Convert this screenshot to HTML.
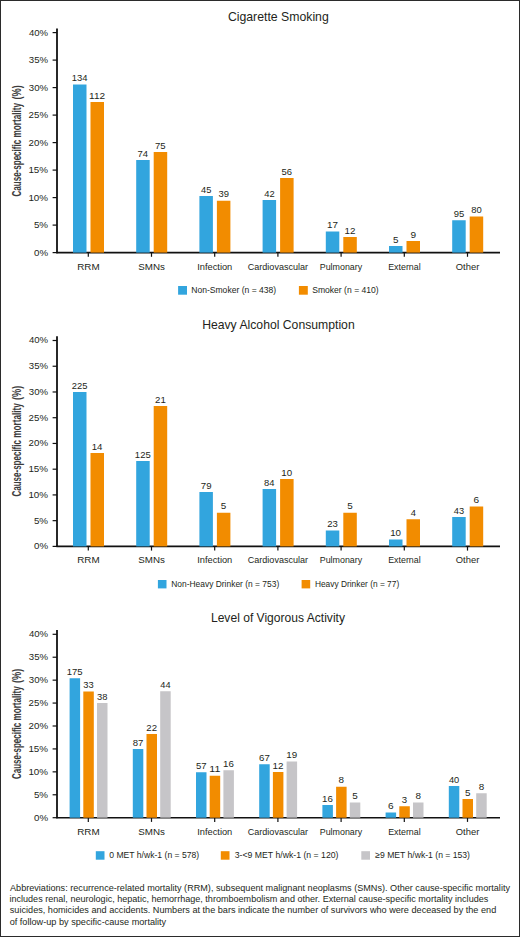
<!DOCTYPE html>
<html><head><meta charset="utf-8"><style>
html,body{margin:0;padding:0;background:#fff;}
svg{display:block;font-family:"Liberation Sans",sans-serif;}
</style></head><body>
<svg width="520" height="937" viewBox="0 0 520 937">
<rect x="0" y="0" width="520" height="937" fill="#fff"/>
<line x1="57.00" y1="28.40" x2="57.00" y2="253.20" stroke="#111" stroke-width="1.8"/>
<line x1="52.60" y1="252.60" x2="57.00" y2="252.60" stroke="#111" stroke-width="1.2"/>
<line x1="52.60" y1="225.10" x2="57.00" y2="225.10" stroke="#111" stroke-width="1.2"/>
<line x1="52.60" y1="197.60" x2="57.00" y2="197.60" stroke="#111" stroke-width="1.2"/>
<line x1="52.60" y1="170.10" x2="57.00" y2="170.10" stroke="#111" stroke-width="1.2"/>
<line x1="52.60" y1="142.60" x2="57.00" y2="142.60" stroke="#111" stroke-width="1.2"/>
<line x1="52.60" y1="115.10" x2="57.00" y2="115.10" stroke="#111" stroke-width="1.2"/>
<line x1="52.60" y1="87.60" x2="57.00" y2="87.60" stroke="#111" stroke-width="1.2"/>
<line x1="52.60" y1="60.10" x2="57.00" y2="60.10" stroke="#111" stroke-width="1.2"/>
<line x1="52.60" y1="32.60" x2="57.00" y2="32.60" stroke="#111" stroke-width="1.2"/>
<line x1="56.40" y1="252.60" x2="500.00" y2="252.60" stroke="#111" stroke-width="1.6"/>
<line x1="88.30" y1="252.60" x2="88.30" y2="256.80" stroke="#111" stroke-width="1.2"/>
<line x1="151.50" y1="252.60" x2="151.50" y2="256.80" stroke="#111" stroke-width="1.2"/>
<line x1="214.70" y1="252.60" x2="214.70" y2="256.80" stroke="#111" stroke-width="1.2"/>
<line x1="277.90" y1="252.60" x2="277.90" y2="256.80" stroke="#111" stroke-width="1.2"/>
<line x1="341.10" y1="252.60" x2="341.10" y2="256.80" stroke="#111" stroke-width="1.2"/>
<line x1="404.30" y1="252.60" x2="404.30" y2="256.80" stroke="#111" stroke-width="1.2"/>
<line x1="467.50" y1="252.60" x2="467.50" y2="256.80" stroke="#111" stroke-width="1.2"/>
<rect x="73.00" y="84.50" width="13.50" height="168.10" fill="#32a5de"/>
<rect x="136.20" y="160.00" width="13.50" height="92.60" fill="#32a5de"/>
<rect x="199.40" y="196.00" width="13.50" height="56.60" fill="#32a5de"/>
<rect x="262.60" y="200.00" width="13.50" height="52.60" fill="#32a5de"/>
<rect x="325.80" y="231.50" width="13.50" height="21.10" fill="#32a5de"/>
<rect x="389.00" y="246.00" width="13.50" height="6.60" fill="#32a5de"/>
<rect x="452.20" y="220.25" width="13.50" height="32.35" fill="#32a5de"/>
<rect x="90.50" y="102.00" width="13.50" height="150.60" fill="#f28c00"/>
<rect x="153.70" y="152.00" width="13.50" height="100.60" fill="#f28c00"/>
<rect x="216.90" y="200.75" width="13.50" height="51.85" fill="#f28c00"/>
<rect x="280.10" y="178.00" width="13.50" height="74.60" fill="#f28c00"/>
<rect x="343.30" y="237.00" width="13.50" height="15.60" fill="#f28c00"/>
<rect x="406.50" y="241.00" width="13.50" height="11.60" fill="#f28c00"/>
<rect x="469.70" y="216.50" width="13.50" height="36.10" fill="#f28c00"/>
<rect x="178.10" y="286.00" width="8.90" height="8.70" fill="#32a5de"/>
<rect x="298.90" y="286.00" width="8.90" height="8.70" fill="#f28c00"/>
<line x1="57.00" y1="336.20" x2="57.00" y2="547.00" stroke="#111" stroke-width="1.8"/>
<line x1="52.60" y1="546.40" x2="57.00" y2="546.40" stroke="#111" stroke-width="1.2"/>
<line x1="52.60" y1="520.66" x2="57.00" y2="520.66" stroke="#111" stroke-width="1.2"/>
<line x1="52.60" y1="494.92" x2="57.00" y2="494.92" stroke="#111" stroke-width="1.2"/>
<line x1="52.60" y1="469.19" x2="57.00" y2="469.19" stroke="#111" stroke-width="1.2"/>
<line x1="52.60" y1="443.45" x2="57.00" y2="443.45" stroke="#111" stroke-width="1.2"/>
<line x1="52.60" y1="417.71" x2="57.00" y2="417.71" stroke="#111" stroke-width="1.2"/>
<line x1="52.60" y1="391.98" x2="57.00" y2="391.98" stroke="#111" stroke-width="1.2"/>
<line x1="52.60" y1="366.24" x2="57.00" y2="366.24" stroke="#111" stroke-width="1.2"/>
<line x1="52.60" y1="340.50" x2="57.00" y2="340.50" stroke="#111" stroke-width="1.2"/>
<line x1="56.40" y1="546.40" x2="500.00" y2="546.40" stroke="#111" stroke-width="1.6"/>
<line x1="88.30" y1="546.40" x2="88.30" y2="550.60" stroke="#111" stroke-width="1.2"/>
<line x1="151.50" y1="546.40" x2="151.50" y2="550.60" stroke="#111" stroke-width="1.2"/>
<line x1="214.70" y1="546.40" x2="214.70" y2="550.60" stroke="#111" stroke-width="1.2"/>
<line x1="277.90" y1="546.40" x2="277.90" y2="550.60" stroke="#111" stroke-width="1.2"/>
<line x1="341.10" y1="546.40" x2="341.10" y2="550.60" stroke="#111" stroke-width="1.2"/>
<line x1="404.30" y1="546.40" x2="404.30" y2="550.60" stroke="#111" stroke-width="1.2"/>
<line x1="467.50" y1="546.40" x2="467.50" y2="550.60" stroke="#111" stroke-width="1.2"/>
<rect x="73.00" y="392.00" width="13.50" height="154.40" fill="#32a5de"/>
<rect x="136.20" y="461.00" width="13.50" height="85.40" fill="#32a5de"/>
<rect x="199.40" y="492.00" width="13.50" height="54.40" fill="#32a5de"/>
<rect x="262.60" y="489.00" width="13.50" height="57.40" fill="#32a5de"/>
<rect x="325.80" y="530.50" width="13.50" height="15.90" fill="#32a5de"/>
<rect x="389.00" y="539.50" width="13.50" height="6.90" fill="#32a5de"/>
<rect x="452.20" y="517.00" width="13.50" height="29.40" fill="#32a5de"/>
<rect x="90.50" y="453.00" width="13.50" height="93.40" fill="#f28c00"/>
<rect x="153.70" y="406.00" width="13.50" height="140.40" fill="#f28c00"/>
<rect x="216.90" y="512.75" width="13.50" height="33.65" fill="#f28c00"/>
<rect x="280.10" y="479.00" width="13.50" height="67.40" fill="#f28c00"/>
<rect x="343.30" y="512.75" width="13.50" height="33.65" fill="#f28c00"/>
<rect x="406.50" y="519.25" width="13.50" height="27.15" fill="#f28c00"/>
<rect x="469.70" y="506.50" width="13.50" height="39.90" fill="#f28c00"/>
<rect x="157.90" y="580.00" width="8.60" height="8.40" fill="#32a5de"/>
<rect x="301.60" y="580.00" width="8.60" height="8.40" fill="#f28c00"/>
<line x1="57.00" y1="630.00" x2="57.00" y2="818.30" stroke="#111" stroke-width="1.8"/>
<line x1="52.60" y1="817.70" x2="57.00" y2="817.70" stroke="#111" stroke-width="1.2"/>
<line x1="52.60" y1="794.78" x2="57.00" y2="794.78" stroke="#111" stroke-width="1.2"/>
<line x1="52.60" y1="771.85" x2="57.00" y2="771.85" stroke="#111" stroke-width="1.2"/>
<line x1="52.60" y1="748.92" x2="57.00" y2="748.92" stroke="#111" stroke-width="1.2"/>
<line x1="52.60" y1="726.00" x2="57.00" y2="726.00" stroke="#111" stroke-width="1.2"/>
<line x1="52.60" y1="703.07" x2="57.00" y2="703.07" stroke="#111" stroke-width="1.2"/>
<line x1="52.60" y1="680.15" x2="57.00" y2="680.15" stroke="#111" stroke-width="1.2"/>
<line x1="52.60" y1="657.22" x2="57.00" y2="657.22" stroke="#111" stroke-width="1.2"/>
<line x1="52.60" y1="634.30" x2="57.00" y2="634.30" stroke="#111" stroke-width="1.2"/>
<line x1="56.40" y1="817.70" x2="500.00" y2="817.70" stroke="#111" stroke-width="1.6"/>
<line x1="88.30" y1="817.70" x2="88.30" y2="821.90" stroke="#111" stroke-width="1.2"/>
<line x1="151.50" y1="817.70" x2="151.50" y2="821.90" stroke="#111" stroke-width="1.2"/>
<line x1="214.70" y1="817.70" x2="214.70" y2="821.90" stroke="#111" stroke-width="1.2"/>
<line x1="277.90" y1="817.70" x2="277.90" y2="821.90" stroke="#111" stroke-width="1.2"/>
<line x1="341.10" y1="817.70" x2="341.10" y2="821.90" stroke="#111" stroke-width="1.2"/>
<line x1="404.30" y1="817.70" x2="404.30" y2="821.90" stroke="#111" stroke-width="1.2"/>
<line x1="467.50" y1="817.70" x2="467.50" y2="821.90" stroke="#111" stroke-width="1.2"/>
<rect x="69.60" y="678.25" width="10.50" height="139.45" fill="#32a5de"/>
<rect x="132.80" y="749.00" width="10.50" height="68.70" fill="#32a5de"/>
<rect x="196.00" y="772.25" width="10.50" height="45.45" fill="#32a5de"/>
<rect x="259.20" y="764.25" width="10.50" height="53.45" fill="#32a5de"/>
<rect x="322.40" y="805.00" width="10.50" height="12.70" fill="#32a5de"/>
<rect x="385.60" y="812.50" width="10.50" height="5.20" fill="#32a5de"/>
<rect x="448.80" y="786.00" width="10.50" height="31.70" fill="#32a5de"/>
<rect x="83.30" y="691.50" width="10.50" height="126.20" fill="#f28c00"/>
<rect x="146.50" y="734.00" width="10.50" height="83.70" fill="#f28c00"/>
<rect x="209.70" y="775.75" width="10.50" height="41.95" fill="#f28c00"/>
<rect x="272.90" y="772.00" width="10.50" height="45.70" fill="#f28c00"/>
<rect x="336.10" y="786.75" width="10.50" height="30.95" fill="#f28c00"/>
<rect x="399.30" y="806.25" width="10.50" height="11.45" fill="#f28c00"/>
<rect x="462.50" y="799.00" width="10.50" height="18.70" fill="#f28c00"/>
<rect x="97.00" y="703.00" width="10.50" height="114.70" fill="#c6c5c8"/>
<rect x="160.20" y="691.25" width="10.50" height="126.45" fill="#c6c5c8"/>
<rect x="223.40" y="770.25" width="10.50" height="47.45" fill="#c6c5c8"/>
<rect x="286.60" y="761.50" width="10.50" height="56.20" fill="#c6c5c8"/>
<rect x="349.80" y="802.50" width="10.50" height="15.20" fill="#c6c5c8"/>
<rect x="413.00" y="802.50" width="10.50" height="15.20" fill="#c6c5c8"/>
<rect x="476.20" y="793.25" width="10.50" height="24.45" fill="#c6c5c8"/>
<rect x="95.80" y="851.20" width="8.70" height="8.50" fill="#32a5de"/>
<rect x="220.80" y="851.20" width="8.70" height="8.50" fill="#f28c00"/>
<rect x="361.30" y="851.20" width="8.70" height="8.50" fill="#c6c5c8"/>
<text x="227.89" y="20.60" font-size="12.94" textLength="100.90" lengthAdjust="spacingAndGlyphs" fill="#231f20">Cigarette Smoking</text>
<text x="34.01" y="255.55" font-size="8.72" textLength="14.08" lengthAdjust="spacingAndGlyphs" fill="#231f20">0%</text>
<text x="33.91" y="228.05" font-size="8.72" textLength="14.18" lengthAdjust="spacingAndGlyphs" fill="#231f20">5%</text>
<text x="28.41" y="200.55" font-size="8.72" textLength="19.67" lengthAdjust="spacingAndGlyphs" fill="#231f20">10%</text>
<text x="28.41" y="173.05" font-size="8.72" textLength="19.67" lengthAdjust="spacingAndGlyphs" fill="#231f20">15%</text>
<text x="28.61" y="145.55" font-size="8.72" textLength="19.47" lengthAdjust="spacingAndGlyphs" fill="#231f20">20%</text>
<text x="28.61" y="118.05" font-size="8.72" textLength="19.47" lengthAdjust="spacingAndGlyphs" fill="#231f20">25%</text>
<text x="28.81" y="90.55" font-size="8.72" textLength="19.27" lengthAdjust="spacingAndGlyphs" fill="#231f20">30%</text>
<text x="28.81" y="63.05" font-size="8.72" textLength="19.27" lengthAdjust="spacingAndGlyphs" fill="#231f20">35%</text>
<text x="28.91" y="35.55" font-size="8.72" textLength="19.17" lengthAdjust="spacingAndGlyphs" fill="#231f20">40%</text>
<text x="77.26" y="269.75" font-size="9.88" textLength="22.41" lengthAdjust="spacingAndGlyphs" fill="#231f20">RRM</text>
<text x="138.31" y="269.75" font-size="9.88" textLength="26.69" lengthAdjust="spacingAndGlyphs" fill="#231f20">SMNs</text>
<text x="197.19" y="269.75" font-size="9.88" textLength="35.11" lengthAdjust="spacingAndGlyphs" fill="#231f20">Infection</text>
<text x="247.77" y="269.75" font-size="9.88" textLength="60.32" lengthAdjust="spacingAndGlyphs" fill="#231f20">Cardiovascular</text>
<text x="319.71" y="269.75" font-size="9.88" textLength="42.46" lengthAdjust="spacingAndGlyphs" fill="#231f20">Pulmonary</text>
<text x="388.17" y="269.75" font-size="9.88" textLength="32.51" lengthAdjust="spacingAndGlyphs" fill="#231f20">External</text>
<text x="455.82" y="269.75" font-size="9.88" textLength="23.50" lengthAdjust="spacingAndGlyphs" fill="#231f20">Other</text>
<text transform="rotate(-90)" x="-99.57" y="20.90" font-size="12.94" textLength="14.37" lengthAdjust="spacingAndGlyphs" fill="#3c3c3c" font-weight="bold">(%)</text>
<text transform="rotate(-90)" x="-137.52" y="20.90" font-size="12.94" textLength="34.69" lengthAdjust="spacingAndGlyphs" fill="#3c3c3c" font-weight="bold">mortality</text>
<text transform="rotate(-90)" x="-196.52" y="20.90" font-size="12.94" textLength="56.72" lengthAdjust="spacingAndGlyphs" fill="#3c3c3c" font-weight="bold">Cause-specific</text>
<text x="71.66" y="81.10" font-size="8.87" textLength="15.76" lengthAdjust="spacingAndGlyphs" fill="#231f20">134</text>
<text x="137.58" y="156.60" font-size="8.87" textLength="10.52" lengthAdjust="spacingAndGlyphs" fill="#231f20">74</text>
<text x="201.06" y="192.60" font-size="8.87" textLength="10.32" lengthAdjust="spacingAndGlyphs" fill="#231f20">45</text>
<text x="264.26" y="196.60" font-size="8.87" textLength="10.42" lengthAdjust="spacingAndGlyphs" fill="#231f20">42</text>
<text x="326.96" y="228.10" font-size="8.87" textLength="10.94" lengthAdjust="spacingAndGlyphs" fill="#231f20">17</text>
<text x="392.98" y="242.60" font-size="8.87" textLength="5.50" lengthAdjust="spacingAndGlyphs" fill="#231f20">5</text>
<text x="453.67" y="216.85" font-size="8.87" textLength="10.52" lengthAdjust="spacingAndGlyphs" fill="#231f20">95</text>
<text x="89.12" y="98.60" font-size="8.87" textLength="16.02" lengthAdjust="spacingAndGlyphs" fill="#231f20">112</text>
<text x="155.07" y="148.60" font-size="8.87" textLength="10.62" lengthAdjust="spacingAndGlyphs" fill="#231f20">75</text>
<text x="218.47" y="197.35" font-size="8.87" textLength="10.52" lengthAdjust="spacingAndGlyphs" fill="#231f20">39</text>
<text x="281.57" y="174.60" font-size="8.87" textLength="10.52" lengthAdjust="spacingAndGlyphs" fill="#231f20">56</text>
<text x="344.46" y="233.60" font-size="8.87" textLength="10.94" lengthAdjust="spacingAndGlyphs" fill="#231f20">12</text>
<text x="410.47" y="237.60" font-size="8.87" textLength="5.62" lengthAdjust="spacingAndGlyphs" fill="#231f20">9</text>
<text x="471.17" y="213.10" font-size="8.87" textLength="10.52" lengthAdjust="spacingAndGlyphs" fill="#231f20">80</text>
<text x="191.21" y="293.00" font-size="9.08" textLength="84.99" lengthAdjust="spacingAndGlyphs" fill="#231f20">Non-Smoker (n = 438)</text>
<text x="312.16" y="293.00" font-size="9.08" textLength="66.55" lengthAdjust="spacingAndGlyphs" fill="#231f20">Smoker (n = 410)</text>
<text x="202.13" y="328.50" font-size="12.94" textLength="152.55" lengthAdjust="spacingAndGlyphs" fill="#231f20">Heavy Alcohol Consumption</text>
<text x="34.01" y="549.35" font-size="8.72" textLength="14.08" lengthAdjust="spacingAndGlyphs" fill="#231f20">0%</text>
<text x="33.91" y="523.61" font-size="8.72" textLength="14.18" lengthAdjust="spacingAndGlyphs" fill="#231f20">5%</text>
<text x="28.41" y="497.87" font-size="8.72" textLength="19.67" lengthAdjust="spacingAndGlyphs" fill="#231f20">10%</text>
<text x="28.41" y="472.14" font-size="8.72" textLength="19.67" lengthAdjust="spacingAndGlyphs" fill="#231f20">15%</text>
<text x="28.61" y="446.40" font-size="8.72" textLength="19.47" lengthAdjust="spacingAndGlyphs" fill="#231f20">20%</text>
<text x="28.61" y="420.66" font-size="8.72" textLength="19.47" lengthAdjust="spacingAndGlyphs" fill="#231f20">25%</text>
<text x="28.81" y="394.93" font-size="8.72" textLength="19.27" lengthAdjust="spacingAndGlyphs" fill="#231f20">30%</text>
<text x="28.81" y="369.19" font-size="8.72" textLength="19.27" lengthAdjust="spacingAndGlyphs" fill="#231f20">35%</text>
<text x="28.91" y="343.45" font-size="8.72" textLength="19.17" lengthAdjust="spacingAndGlyphs" fill="#231f20">40%</text>
<text x="77.26" y="563.25" font-size="9.88" textLength="22.41" lengthAdjust="spacingAndGlyphs" fill="#231f20">RRM</text>
<text x="138.31" y="563.25" font-size="9.88" textLength="26.69" lengthAdjust="spacingAndGlyphs" fill="#231f20">SMNs</text>
<text x="197.19" y="563.25" font-size="9.88" textLength="35.11" lengthAdjust="spacingAndGlyphs" fill="#231f20">Infection</text>
<text x="247.77" y="563.25" font-size="9.88" textLength="60.32" lengthAdjust="spacingAndGlyphs" fill="#231f20">Cardiovascular</text>
<text x="319.71" y="563.25" font-size="9.88" textLength="42.46" lengthAdjust="spacingAndGlyphs" fill="#231f20">Pulmonary</text>
<text x="388.17" y="563.25" font-size="9.88" textLength="32.51" lengthAdjust="spacingAndGlyphs" fill="#231f20">External</text>
<text x="455.82" y="563.25" font-size="9.88" textLength="23.50" lengthAdjust="spacingAndGlyphs" fill="#231f20">Other</text>
<text transform="rotate(-90)" x="-400.01" y="20.90" font-size="12.94" textLength="14.31" lengthAdjust="spacingAndGlyphs" fill="#3c3c3c" font-weight="bold">(%)</text>
<text transform="rotate(-90)" x="-437.79" y="20.90" font-size="12.94" textLength="34.54" lengthAdjust="spacingAndGlyphs" fill="#3c3c3c" font-weight="bold">mortality</text>
<text transform="rotate(-90)" x="-496.52" y="20.90" font-size="12.94" textLength="56.46" lengthAdjust="spacingAndGlyphs" fill="#3c3c3c" font-weight="bold">Cause-specific</text>
<text x="71.86" y="388.60" font-size="8.87" textLength="15.66" lengthAdjust="spacingAndGlyphs" fill="#231f20">225</text>
<text x="134.86" y="457.60" font-size="8.87" textLength="15.86" lengthAdjust="spacingAndGlyphs" fill="#231f20">125</text>
<text x="200.77" y="488.60" font-size="8.87" textLength="10.73" lengthAdjust="spacingAndGlyphs" fill="#231f20">79</text>
<text x="264.08" y="485.60" font-size="8.87" textLength="10.42" lengthAdjust="spacingAndGlyphs" fill="#231f20">84</text>
<text x="327.17" y="527.10" font-size="8.87" textLength="10.62" lengthAdjust="spacingAndGlyphs" fill="#231f20">23</text>
<text x="390.17" y="536.10" font-size="8.87" textLength="10.83" lengthAdjust="spacingAndGlyphs" fill="#231f20">10</text>
<text x="453.86" y="513.60" font-size="8.87" textLength="10.32" lengthAdjust="spacingAndGlyphs" fill="#231f20">43</text>
<text x="91.67" y="449.60" font-size="8.87" textLength="10.73" lengthAdjust="spacingAndGlyphs" fill="#231f20">14</text>
<text x="155.07" y="402.60" font-size="8.87" textLength="10.73" lengthAdjust="spacingAndGlyphs" fill="#231f20">21</text>
<text x="220.88" y="509.35" font-size="8.87" textLength="5.50" lengthAdjust="spacingAndGlyphs" fill="#231f20">5</text>
<text x="281.27" y="475.60" font-size="8.87" textLength="10.83" lengthAdjust="spacingAndGlyphs" fill="#231f20">10</text>
<text x="347.28" y="509.35" font-size="8.87" textLength="5.50" lengthAdjust="spacingAndGlyphs" fill="#231f20">5</text>
<text x="410.69" y="515.85" font-size="8.87" textLength="5.18" lengthAdjust="spacingAndGlyphs" fill="#231f20">4</text>
<text x="473.57" y="503.10" font-size="8.87" textLength="5.62" lengthAdjust="spacingAndGlyphs" fill="#231f20">6</text>
<text x="171.23" y="587.00" font-size="9.08" textLength="107.97" lengthAdjust="spacingAndGlyphs" fill="#231f20">Non-Heavy Drinker (n = 753)</text>
<text x="314.93" y="587.00" font-size="9.08" textLength="84.26" lengthAdjust="spacingAndGlyphs" fill="#231f20">Heavy Drinker (n = 77)</text>
<text x="210.94" y="621.90" font-size="12.94" textLength="134.06" lengthAdjust="spacingAndGlyphs" fill="#231f20">Level of Vigorous Activity</text>
<text x="34.01" y="820.65" font-size="8.72" textLength="14.08" lengthAdjust="spacingAndGlyphs" fill="#231f20">0%</text>
<text x="33.91" y="797.73" font-size="8.72" textLength="14.18" lengthAdjust="spacingAndGlyphs" fill="#231f20">5%</text>
<text x="28.41" y="774.80" font-size="8.72" textLength="19.67" lengthAdjust="spacingAndGlyphs" fill="#231f20">10%</text>
<text x="28.41" y="751.88" font-size="8.72" textLength="19.67" lengthAdjust="spacingAndGlyphs" fill="#231f20">15%</text>
<text x="28.61" y="728.95" font-size="8.72" textLength="19.47" lengthAdjust="spacingAndGlyphs" fill="#231f20">20%</text>
<text x="28.61" y="706.02" font-size="8.72" textLength="19.47" lengthAdjust="spacingAndGlyphs" fill="#231f20">25%</text>
<text x="28.81" y="683.10" font-size="8.72" textLength="19.27" lengthAdjust="spacingAndGlyphs" fill="#231f20">30%</text>
<text x="28.81" y="660.17" font-size="8.72" textLength="19.27" lengthAdjust="spacingAndGlyphs" fill="#231f20">35%</text>
<text x="28.91" y="637.25" font-size="8.72" textLength="19.17" lengthAdjust="spacingAndGlyphs" fill="#231f20">40%</text>
<text x="77.26" y="834.50" font-size="9.88" textLength="22.41" lengthAdjust="spacingAndGlyphs" fill="#231f20">RRM</text>
<text x="138.31" y="834.50" font-size="9.88" textLength="26.69" lengthAdjust="spacingAndGlyphs" fill="#231f20">SMNs</text>
<text x="197.19" y="834.50" font-size="9.88" textLength="35.11" lengthAdjust="spacingAndGlyphs" fill="#231f20">Infection</text>
<text x="247.77" y="834.50" font-size="9.88" textLength="60.32" lengthAdjust="spacingAndGlyphs" fill="#231f20">Cardiovascular</text>
<text x="319.71" y="834.50" font-size="9.88" textLength="42.46" lengthAdjust="spacingAndGlyphs" fill="#231f20">Pulmonary</text>
<text x="388.17" y="834.50" font-size="9.88" textLength="32.51" lengthAdjust="spacingAndGlyphs" fill="#231f20">External</text>
<text x="455.82" y="834.50" font-size="9.88" textLength="23.50" lengthAdjust="spacingAndGlyphs" fill="#231f20">Other</text>
<text transform="rotate(-90)" x="-682.95" y="20.90" font-size="12.94" textLength="14.24" lengthAdjust="spacingAndGlyphs" fill="#3c3c3c" font-weight="bold">(%)</text>
<text transform="rotate(-90)" x="-720.55" y="20.90" font-size="12.94" textLength="34.38" lengthAdjust="spacingAndGlyphs" fill="#3c3c3c" font-weight="bold">mortality</text>
<text transform="rotate(-90)" x="-779.02" y="20.90" font-size="12.94" textLength="56.20" lengthAdjust="spacingAndGlyphs" fill="#3c3c3c" font-weight="bold">Cause-specific</text>
<text x="66.76" y="674.85" font-size="8.87" textLength="15.86" lengthAdjust="spacingAndGlyphs" fill="#231f20">175</text>
<text x="132.77" y="745.60" font-size="8.87" textLength="10.62" lengthAdjust="spacingAndGlyphs" fill="#231f20">87</text>
<text x="195.97" y="768.85" font-size="8.87" textLength="10.62" lengthAdjust="spacingAndGlyphs" fill="#231f20">57</text>
<text x="259.07" y="760.85" font-size="8.87" textLength="10.73" lengthAdjust="spacingAndGlyphs" fill="#231f20">67</text>
<text x="322.07" y="801.60" font-size="8.87" textLength="10.83" lengthAdjust="spacingAndGlyphs" fill="#231f20">16</text>
<text x="387.97" y="809.10" font-size="8.87" textLength="5.62" lengthAdjust="spacingAndGlyphs" fill="#231f20">6</text>
<text x="448.96" y="782.60" font-size="8.87" textLength="10.32" lengthAdjust="spacingAndGlyphs" fill="#231f20">40</text>
<text x="83.37" y="688.10" font-size="8.87" textLength="10.42" lengthAdjust="spacingAndGlyphs" fill="#231f20">33</text>
<text x="146.37" y="730.60" font-size="8.87" textLength="10.73" lengthAdjust="spacingAndGlyphs" fill="#231f20">22</text>
<text x="209.31" y="772.35" font-size="8.87" textLength="11.03" lengthAdjust="spacingAndGlyphs" fill="#231f20">11</text>
<text x="272.56" y="768.60" font-size="8.87" textLength="10.94" lengthAdjust="spacingAndGlyphs" fill="#231f20">12</text>
<text x="338.58" y="783.35" font-size="8.87" textLength="5.50" lengthAdjust="spacingAndGlyphs" fill="#231f20">8</text>
<text x="401.88" y="802.85" font-size="8.87" textLength="5.39" lengthAdjust="spacingAndGlyphs" fill="#231f20">3</text>
<text x="464.98" y="795.60" font-size="8.87" textLength="5.50" lengthAdjust="spacingAndGlyphs" fill="#231f20">5</text>
<text x="97.07" y="699.60" font-size="8.87" textLength="10.42" lengthAdjust="spacingAndGlyphs" fill="#231f20">38</text>
<text x="160.37" y="687.85" font-size="8.87" textLength="10.22" lengthAdjust="spacingAndGlyphs" fill="#231f20">44</text>
<text x="223.07" y="766.85" font-size="8.87" textLength="10.83" lengthAdjust="spacingAndGlyphs" fill="#231f20">16</text>
<text x="286.26" y="758.10" font-size="8.87" textLength="10.94" lengthAdjust="spacingAndGlyphs" fill="#231f20">19</text>
<text x="352.28" y="799.10" font-size="8.87" textLength="5.50" lengthAdjust="spacingAndGlyphs" fill="#231f20">5</text>
<text x="415.48" y="799.10" font-size="8.87" textLength="5.50" lengthAdjust="spacingAndGlyphs" fill="#231f20">8</text>
<text x="478.68" y="789.85" font-size="8.87" textLength="5.50" lengthAdjust="spacingAndGlyphs" fill="#231f20">8</text>
<text x="109.24" y="858.20" font-size="9.08" textLength="89.96" lengthAdjust="spacingAndGlyphs" fill="#231f20">0 MET h/wk-1 (n = 578)</text>
<text x="234.74" y="858.20" font-size="9.08" textLength="103.72" lengthAdjust="spacingAndGlyphs" fill="#231f20">3-&lt;9 MET h/wk-1 (n = 120)</text>
<text x="375.24" y="858.20" font-size="9.08" textLength="94.71" lengthAdjust="spacingAndGlyphs" fill="#231f20">≥9 MET h/wk-1 (n = 153)</text>
<text x="10.00" y="890.50" font-size="9.45" textLength="500.00" lengthAdjust="spacingAndGlyphs" fill="#231f20">Abbreviations: recurrence-related mortality (RRM), subsequent malignant neoplasms (SMNs). Other cause-specific mortality</text>
<text x="9.46" y="901.80" font-size="9.45" textLength="478.82" lengthAdjust="spacingAndGlyphs" fill="#231f20">includes renal, neurologic, hepatic, hemorrhage, thromboembolism and other. External cause-specific mortality includes</text>
<text x="9.82" y="913.20" font-size="9.45" textLength="486.39" lengthAdjust="spacingAndGlyphs" fill="#231f20">suicides, homicides and accidents. Numbers at the bars indicate the number of survivors who were deceased by the end</text>
<text x="9.63" y="924.50" font-size="9.45" textLength="156.57" lengthAdjust="spacingAndGlyphs" fill="#231f20">of follow-up by specific-cause mortality</text>
<rect x="0.5" y="0.5" width="519" height="936" fill="none" stroke="#2b2b2b" stroke-width="1"/>
</svg>
</body></html>
